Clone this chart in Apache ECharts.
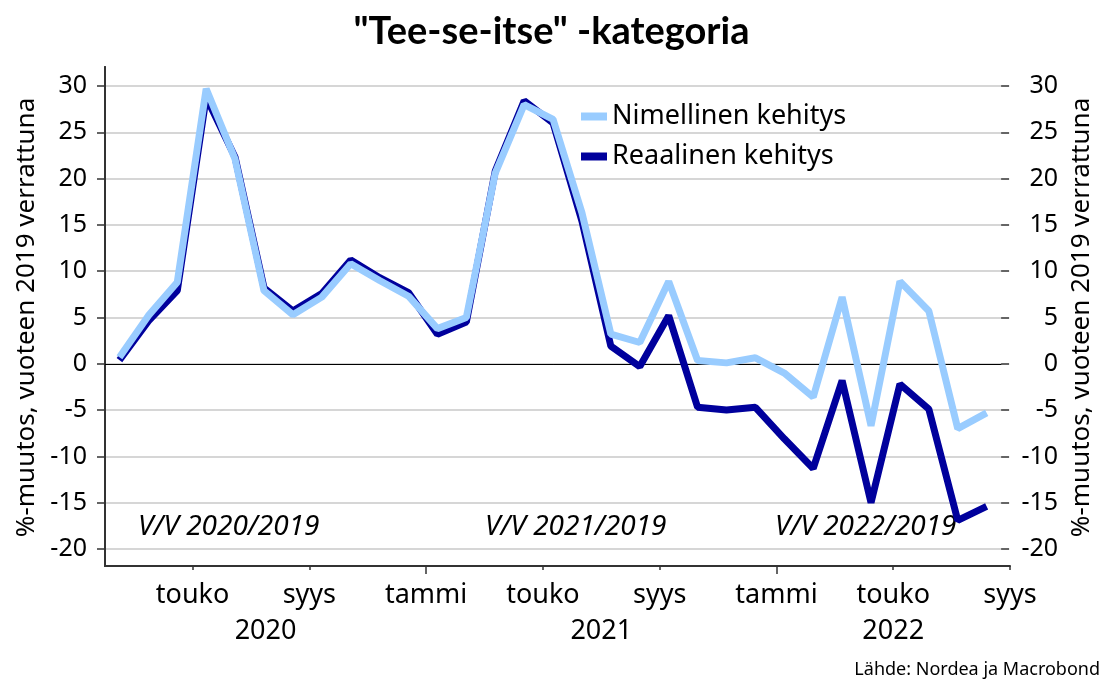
<!DOCTYPE html>
<html>
<head>
<meta charset="utf-8">
<title>Tee-se-itse -kategoria</title>
<script src="https://cdn.jsdelivr.net/npm/echarts@6/dist/echarts.min.js"></script>
<style>
  html, body { margin: 0; padding: 0; background: #fff; }
  #chart { width: 1103px; height: 682px; }
</style>
</head>
<body>
<div id="chart"></div>
<script>
// kuukaudet helmikuu 2020 - elokuu 2022
var months = ['2020-02','2020-03','2020-04','2020-05','2020-06','2020-07','2020-08','2020-09','2020-10','2020-11','2020-12',
  '2021-01','2021-02','2021-03','2021-04','2021-05','2021-06','2021-07','2021-08','2021-09','2021-10','2021-11','2021-12',
  '2022-01','2022-02','2022-03','2022-04','2022-05','2022-06','2022-07','2022-08'];

var nimellinen = [0.7, 5.2, 8.8, 29.7, 22.1, 7.9, 5.3, 7.2, 10.8, 9.0, 7.3,
  3.8, 5.0, 20.6, 28.0, 26.4, 16.3, 3.2, 2.3, 8.9, 0.35,
  0.1, 0.65, -1.0, -3.6, 7.2, -6.7, 8.9, 5.7, -7.0, -5.3];

var reaalinen = [0.4, 4.6, 7.9, 28.8, 22.3, 8.2, 5.7, 7.6, 11.2, 9.3, 7.7,
  3.2, 4.5, 20.8, 28.4, 26.0, 15.4, 1.9, -0.3, 5.2, -4.7,
  -5.0, -4.7, -8.1, -11.3, -1.8, -15.0, -2.2, -4.9, -16.9, -15.4];

// akselin tekstit (kuukauden alku = indeksi)
var monthTicks = [3, 7, 11, 15, 19, 23, 27, 31];
var monthLabels = ['touko', 'syys', 'tammi', 'touko', 'syys', 'tammi', 'touko', 'syys'];
var yearTicks = [5.5, 17, 27];
var yearLabels = ['2020', '2021', '2022'];
var periodNotes = ['V/V 2020/2019', 'V/V 2021/2019', 'V/V 2022/2019'];

var light = '#99CCFF';
var dark = '#00009C';
var font = 'Noto Sans';

function toPoints(arr) {
  return arr.map(function (v, i) { return [i + 0.5, v]; });
}

var chart = echarts.init(document.getElementById('chart'));

var yBase = {
  gridIndex: 0, type: 'value', min: -20, max: 30, interval: 5,
  axisLine: { show: false },
  axisTick: { show: true, length: 8, lineStyle: { color: '#333', width: 1.5 } },
  axisLabel: { fontSize: 25, color: '#000', fontFamily: font },
  nameLocation: 'middle',
  nameTextStyle: { fontSize: 26, color: '#000', fontFamily: font }
};

var option = {
  animation: false,
  title: {
    text: '"Tee-se-itse" -kategoria',
    left: 'center', top: 8,
    textStyle: { fontFamily: 'Lato', fontWeight: 'bold', fontSize: 38, color: '#000' }
  },
  legend: {
    orient: 'vertical', left: 581, top: 103, padding: 0,
    itemWidth: 26, itemHeight: 8, itemGap: 13,
    textStyle: { fontSize: 27, color: '#000', fontFamily: font },
    data: [{ name: 'Nimellinen kehitys', icon: 'rect' }, { name: 'Reaalinen kehitys', icon: 'rect' }]
  },
  grid: [
    { left: 105, right: 93, top: 86, bottom: 133 },
    { left: 105, right: 93, top: 67, bottom: 116 }
  ],
  xAxis: [
    {
      gridIndex: 0, type: 'value', min: 0, max: 31,
      axisLine: { onZero: true, lineStyle: { color: '#000', width: 1 } },
      axisTick: { show: false }, axisLabel: { show: false }, splitLine: { show: false }
    },
    {
      gridIndex: 1, type: 'value', min: 0, max: 31, position: 'bottom', offset: 0,
      axisLine: { onZero: false, lineStyle: { color: '#333', width: 2 } },
      axisTick: { customValues: monthTicks, length: 4, lineStyle: { color: '#333', width: 1.5 } },
      axisLabel: {
        customValues: monthTicks, margin: 16, fontSize: 27, color: '#000', fontFamily: font,
        formatter: function (v) { return monthLabels[monthTicks.indexOf(v)] || ''; }
      },
      splitLine: { show: false }
    },
    {
      gridIndex: 1, type: 'value', min: 0, max: 31, position: 'bottom', offset: 0,
      axisLine: { show: false },
      axisTick: { customValues: [11, 23], length: 8, lineStyle: { color: '#333', width: 1.5 } },
      axisLabel: {
        customValues: yearTicks, margin: 52, fontSize: 27, color: '#000', fontFamily: font,
        formatter: function (v) { return yearLabels[yearTicks.indexOf(v)] || ''; }
      },
      splitLine: { show: false }
    }
  ],
  yAxis: [
    Object.assign({}, yBase, {
      position: 'left',
      axisLabel: Object.assign({}, yBase.axisLabel, { margin: 18 }),
      splitLine: { lineStyle: { color: '#c8c8c8', width: 1.5 } },
      name: '%-muutos, vuoteen 2019 verrattuna', nameGap: 64
    }),
    Object.assign({}, yBase, {
      position: 'right',
      axisLabel: Object.assign({}, yBase.axisLabel, { margin: 57, align: 'right' }),
      splitLine: { show: false },
      name: '%-muutos, vuoteen 2019 verrattuna', nameGap: 65
    }),
    {
      gridIndex: 1, type: 'value', position: 'left', min: 0, max: 1,
      axisLine: { show: true, lineStyle: { color: '#333', width: 2 } },
      axisTick: { show: false }, axisLabel: { show: false }, splitLine: { show: false }
    },
    {
      gridIndex: 1, type: 'value', position: 'right', min: 0, max: 1,
      axisLine: { show: true, lineStyle: { color: '#333', width: 2 } },
      axisTick: { show: false }, axisLabel: { show: false }, splitLine: { show: false }
    }
  ],
  series: [
    {
      name: 'Reaalinen kehitys', type: 'line', xAxisIndex: 0, yAxisIndex: 0,
      data: toPoints(reaalinen), symbol: 'none', z: 3,
      lineStyle: { width: 7, color: dark }, itemStyle: { color: dark }
    },
    {
      name: 'Nimellinen kehitys', type: 'line', xAxisIndex: 0, yAxisIndex: 0,
      data: toPoints(nimellinen), symbol: 'none', z: 4,
      lineStyle: { width: 7, color: light }, itemStyle: { color: light }
    }
  ],
  graphic: [
    { type: 'text', left: 138, top: 513, style: { text: periodNotes[0], font: 'italic 28px "Noto Sans"', fill: '#000' } },
    { type: 'text', left: 485, top: 513, style: { text: periodNotes[1], font: 'italic 28px "Noto Sans"', fill: '#000' } },
    { type: 'text', left: 775, top: 513, style: { text: periodNotes[2], font: 'italic 28px "Noto Sans"', fill: '#000' } },
    { type: 'text', right: 3, top: 661, style: { text: 'Lähde: Nordea ja Macrobond', font: '18px "Noto Sans"', fill: '#000' } }
  ]
};

chart.setOption(option);
</script>
</body>
</html>
